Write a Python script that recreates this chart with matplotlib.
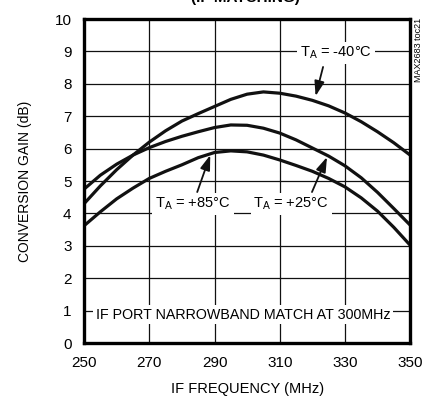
import numpy as np
import matplotlib
matplotlib.use("Agg")
from matplotlib import pyplot as plt

# font: narrow sans like the datasheet plots
plt.rcParams['font.family'] = ['Liberation Sans', 'DejaVu Sans']
plt.rcParams['mathtext.default'] = 'regular'

# data
freq = [250, 255, 260, 265, 270, 275, 280, 285, 290, 295, 300,
        305, 310, 315, 320, 325, 330, 335, 340, 345, 350]
gain_m40 = [4.30, 4.85, 5.35, 5.80, 6.20, 6.55, 6.85, 7.08, 7.30, 7.52, 7.68,
            7.75, 7.71, 7.62, 7.49, 7.32, 7.10, 6.83, 6.52, 6.18, 5.80]
gain_p25 = [4.75, 5.18, 5.52, 5.80, 6.03, 6.22, 6.38, 6.52, 6.65, 6.73, 6.72,
            6.63, 6.48, 6.27, 6.02, 5.77, 5.47, 5.10, 4.65, 4.15, 3.64]
gain_p85 = [3.62, 4.05, 4.45, 4.78, 5.08, 5.30, 5.50, 5.72, 5.88, 5.93, 5.90,
            5.80, 5.65, 5.48, 5.30, 5.08, 4.82, 4.48, 4.07, 3.57, 3.02]

xticks = [250, 270, 290, 310, 330, 350]
yticks = list(range(0, 11))

fig = plt.figure(figsize=(4.29, 4.01), dpi=100)
ax = fig.add_axes([0.196, 0.1446, 0.76, 0.808])

for g in (gain_m40, gain_p25, gain_p85):
    ax.plot(freq, g, color='#111111', lw=2.3, solid_capstyle='butt', zorder=3, clip_on=False)

ax.set_xlim(250, 350)
ax.set_ylim(0, 10)
ax.set_xticks(xticks)
ax.set_yticks(yticks)
ax.tick_params(length=0, labelsize=11, pad=9)
ax.grid(True, color='#111111', lw=0.9)
ax.set_axisbelow(True)
for s in ax.spines.values():
    s.set_linewidth(2.4)
    s.set_zorder(4)

ax.set_xlabel("IF FREQUENCY (MHz)", fontsize=10.5, labelpad=9)
ax.set_ylabel("CONVERSION GAIN (dB)", fontsize=10, labelpad=16)

box = dict(facecolor='white', edgecolor='none', pad=2)
arrow = dict(arrowstyle='-|>,head_length=0.9,head_width=0.3', color='#111111', lw=1.3,
             shrinkA=0, shrinkB=0)

ax.text(327.3, 8.95, r"T$_A$ = -40°C", fontsize=10.5, ha='center', va='center', bbox=box, zorder=5)
ax.annotate("", xy=(321.0, 7.62), xytext=(323.3, 8.52), arrowprops=arrow, zorder=5)

ax.text(283.4, 4.29, r"T$_A$ = +85°C", fontsize=10.5, ha='center', va='center', bbox=box, zorder=5)
ax.annotate("", xy=(288.7, 5.80), xytext=(284.7, 4.66), arrowprops=arrow, zorder=5)

ax.text(313.5, 4.29, r"T$_A$ = +25°C", fontsize=10.5, ha='center', va='center', bbox=box, zorder=5)
ax.annotate("", xy=(324.5, 5.74), xytext=(319.9, 4.66), arrowprops=arrow, zorder=5)

ax.text(298.8, 0.88, "IF PORT NARROWBAND MATCH AT 300MHz", fontsize=10.3,
        ha='center', va='center', bbox=box, zorder=5)

# chart id on the right edge
fig.text(0.975, 0.875, "MAX2683 toc21", rotation=90, fontsize=6.5, ha='center', va='center')

# title, mostly cut off at the top of the image
fig.text(0.571, 1.005, "(IF MATCHING)", fontsize=11, fontweight='bold', ha='center', va='center')

plt.savefig("out.png", dpi=100)
